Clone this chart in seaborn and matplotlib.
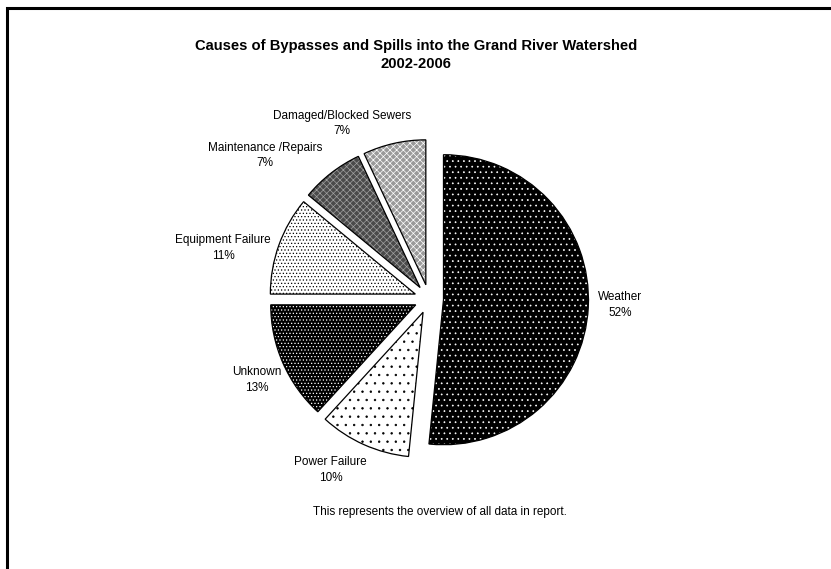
import matplotlib
matplotlib.use('Agg')
import matplotlib.pyplot as plt
import seaborn as sns
from matplotlib.patches import Rectangle

# data (slice sizes)
causes = ['Weather', 'Power Failure', 'Unknown', 'Equipment Failure',
          'Maintenance /Repairs', 'Damaged/Blocked Sewers']
shares = [51.6, 10.2, 13.2, 11.0, 7.0, 7.0]
pct_labels = ['52%', '10%', '13%', '11%', '7%', '7%']

# Excel-like pattern fills: (face, hatch colour, hatch)
patterns = [
    ('#000000', '#ffffff', '...'),
    ('#ffffff', '#000000', '..'),
    ('#000000', '#ffffff', '.....'),
    ('#ffffff', '#000000', '.....'),
    ('#4a4a4a', '#a0a0a0', 'xxxxx'),
    ('#9a9a9a', '#ffffff', 'xxxxx'),
]

# label centres in pie units (radius = 1), relative to the pie centre
label_pos = [(1.32, -0.04), (-0.68, -1.18), (-1.19, -0.56),
             (-1.42, 0.35), (-1.13, 0.99), (-0.60, 1.21)]


def draw_chart():
    sns.set_theme(style='white')
    plt.rcParams['font.family'] = ['Liberation Sans', 'DejaVu Sans']
    plt.rcParams['hatch.linewidth'] = 0.5

    W, H = 831, 569
    fig = plt.figure(figsize=(W / 100, H / 100), dpi=100)
    fig.patch.set_facecolor('white')

    # pie centre and radius in pixels
    cx, cy, R = 429, 299, 145
    half = 260
    ax = fig.add_axes([(cx - half) / W, (H - cy - half) / H, 2 * half / W, 2 * half / H])
    ax.set_aspect('equal')
    ax.axis('off')

    explode = [0.1] * len(shares)
    wedges, _ = ax.pie(shares, explode=explode, startangle=90, counterclock=False,
                       radius=1, wedgeprops=dict(linewidth=0))
    for w, (face, hc, hatch) in zip(wedges, patterns):
        w.set_facecolor(face)
        w.set_edgecolor(hc)
        w.set_hatch(hatch)
    ax.pie(shares, explode=explode, startangle=90, counterclock=False,
           radius=1, wedgeprops=dict(fill=False, edgecolor='black', linewidth=0.9))
    ax.set_xlim(-half / R, half / R)
    ax.set_ylim(-half / R, half / R)

    for name, pct, (lx, ly) in zip(causes, pct_labels, label_pos):
        ax.text(lx, ly, f'{name}\n{pct}', ha='center', va='center',
                fontsize=8.5, color='black', linespacing=1.4)

    fig.text(416 / W, 1 - 55 / H,
             'Causes of Bypasses and Spills into the Grand River Watershed\n2002-2006',
             ha='center', va='center', fontsize=10.6, fontweight='bold',
             color='black', linespacing=1.3)
    fig.text(440 / W, 1 - 512 / H, 'This represents the overview of all data in report.',
             ha='center', va='center', fontsize=8.5, color='black')

    # frame, open at right and bottom like the reference crop
    fig.add_artist(Rectangle((6.5 / W, -0.1), 1.2, 1.1 - 8 / H, transform=fig.transFigure,
                             fill=False, edgecolor='black', linewidth=2.2))

    fig.savefig('out.png', dpi=100)


if __name__ == '__main__':
    draw_chart()
